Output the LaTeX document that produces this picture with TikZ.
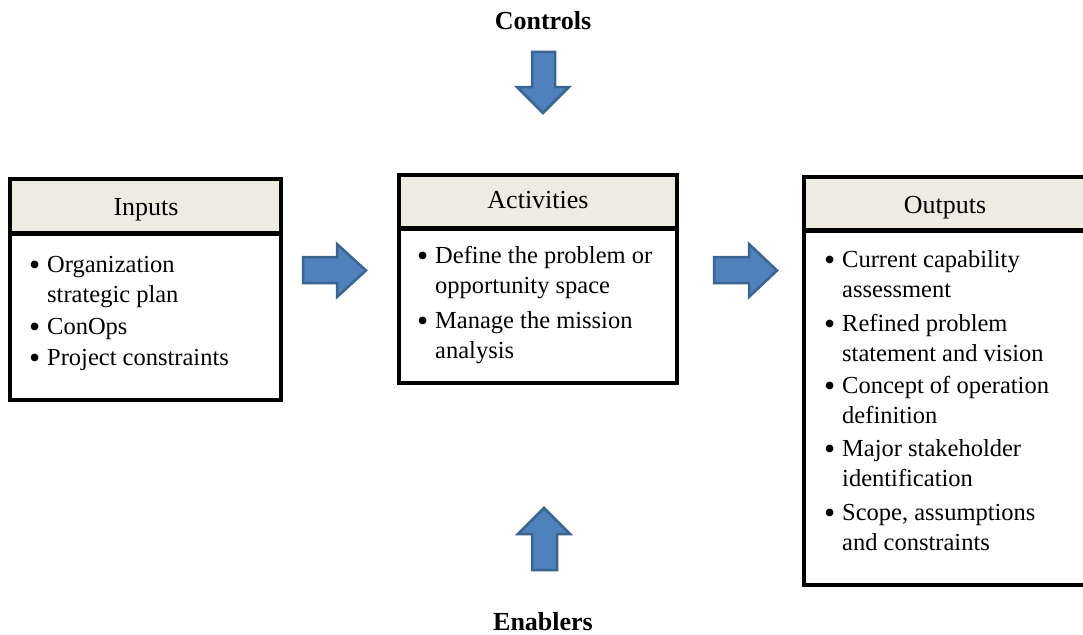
\documentclass[tikz,border=0pt]{standalone}
\usepackage{fontspec}
\usepackage{graphicx}
\setmainfont{Liberation Serif}
\definecolor{headfill}{HTML}{EEECE1}
\definecolor{arrowfill}{HTML}{4F81BD}
\definecolor{arrowedge}{HTML}{3A6491}
\begin{document}
\begin{tikzpicture}[x=1pt,y=-1pt,
  boxline/.style={draw=black,line width=4pt},
  sepline/.style={draw=black,line width=5pt},
  headtext/.style={font=\fontsize{26}{30}\selectfont,anchor=base},
  labeltext/.style={font=\fontsize{26}{30}\selectfont\bfseries,anchor=base},
  item/.style={font=\fontsize{24.5}{30}\selectfont,anchor=base west,inner sep=0pt},
  blockarrow/.style={fill=arrowfill,draw=arrowedge,line width=2.5pt,line join=miter}]
\useasboundingbox (0,0) rectangle (1083,634);
\clip (0,0) rectangle (1083,634);
\newcommand{\mybul}{\raisebox{-3pt}{\scalebox{1.3}{\textbullet}}}
\newcommand{\bitem}[2]{\begin{tabular}[t]{@{}p{18pt}@{}l@{}}\mybul & #1\\ & #2\end{tabular}}
\newcommand{\sitem}[1]{\begin{tabular}[t]{@{}p{18pt}@{}l@{}}\mybul & #1\end{tabular}}

% Inputs box
\fill[headfill] (10,179) rectangle (281,233);
\draw[boxline] (10,179) rectangle (281,400);
\draw[sepline] (10,233) -- (281,233);
\node[headtext] (inputs) at (146,215) {Inputs};
\node[item] (in1) at (29,272) {\bitem{Organization}{strategic plan}};
\node[item] (in2) at (29,334) {\sitem{ConOps}};
\node[item] (in3) at (29,365) {\sitem{Project constraints}};

% Activities box
\fill[headfill] (399,175) rectangle (677,228);
\draw[boxline] (399,175) rectangle (677,383);
\draw[sepline] (399,228) -- (677,228);
\node[headtext] (activities) at (538,208) {Activities};
\node[item] (act1) at (417,263) {\bitem{Define the problem or}{opportunity space}};
\node[item] (act2) at (417,328) {\bitem{Manage the mission}{analysis}};

% Outputs box (runs past the right edge)
\fill[headfill] (804,177) rectangle (1095,230);
\draw[boxline] (804,177) rectangle (1095,585);
\draw[sepline] (804,230) -- (1095,230);
\node[headtext] (outputs) at (945,213) {Outputs};
\node[item] (out1) at (824,267) {\bitem{Current capability}{assessment}};
\node[item] (out2) at (824,331) {\bitem{Refined problem}{statement and vision}};
\node[item] (out3) at (824,393) {\bitem{Concept of operation}{definition}};
\node[item] (out4) at (824,456) {\bitem{Major stakeholder}{identification}};
\node[item] (out5) at (824,520) {\bitem{Scope, assumptions}{and constraints}};

% Controls and enablers
\node[labeltext] (controls) at (543,30) {Controls};
\node[labeltext] (enablers) at (543,630) {Enablers};

% Block arrows
\draw[blockarrow] (303,257) -- (337,257) -- (337,244) -- (366,270.5) -- (337,297) -- (337,283) -- (303,283) -- cycle;
\draw[blockarrow] (714,257) -- (749,257) -- (749,244) -- (777,270.5) -- (749,297) -- (749,283) -- (714,283) -- cycle;
\draw[blockarrow] (532,52) -- (555,52) -- (555,87) -- (569,87) -- (543,113) -- (517,87) -- (532,87) -- cycle;
\draw[blockarrow] (532,570) -- (557,570) -- (557,534) -- (570,534) -- (544,508) -- (518,534) -- (532,534) -- cycle;
\end{tikzpicture}
\end{document}
